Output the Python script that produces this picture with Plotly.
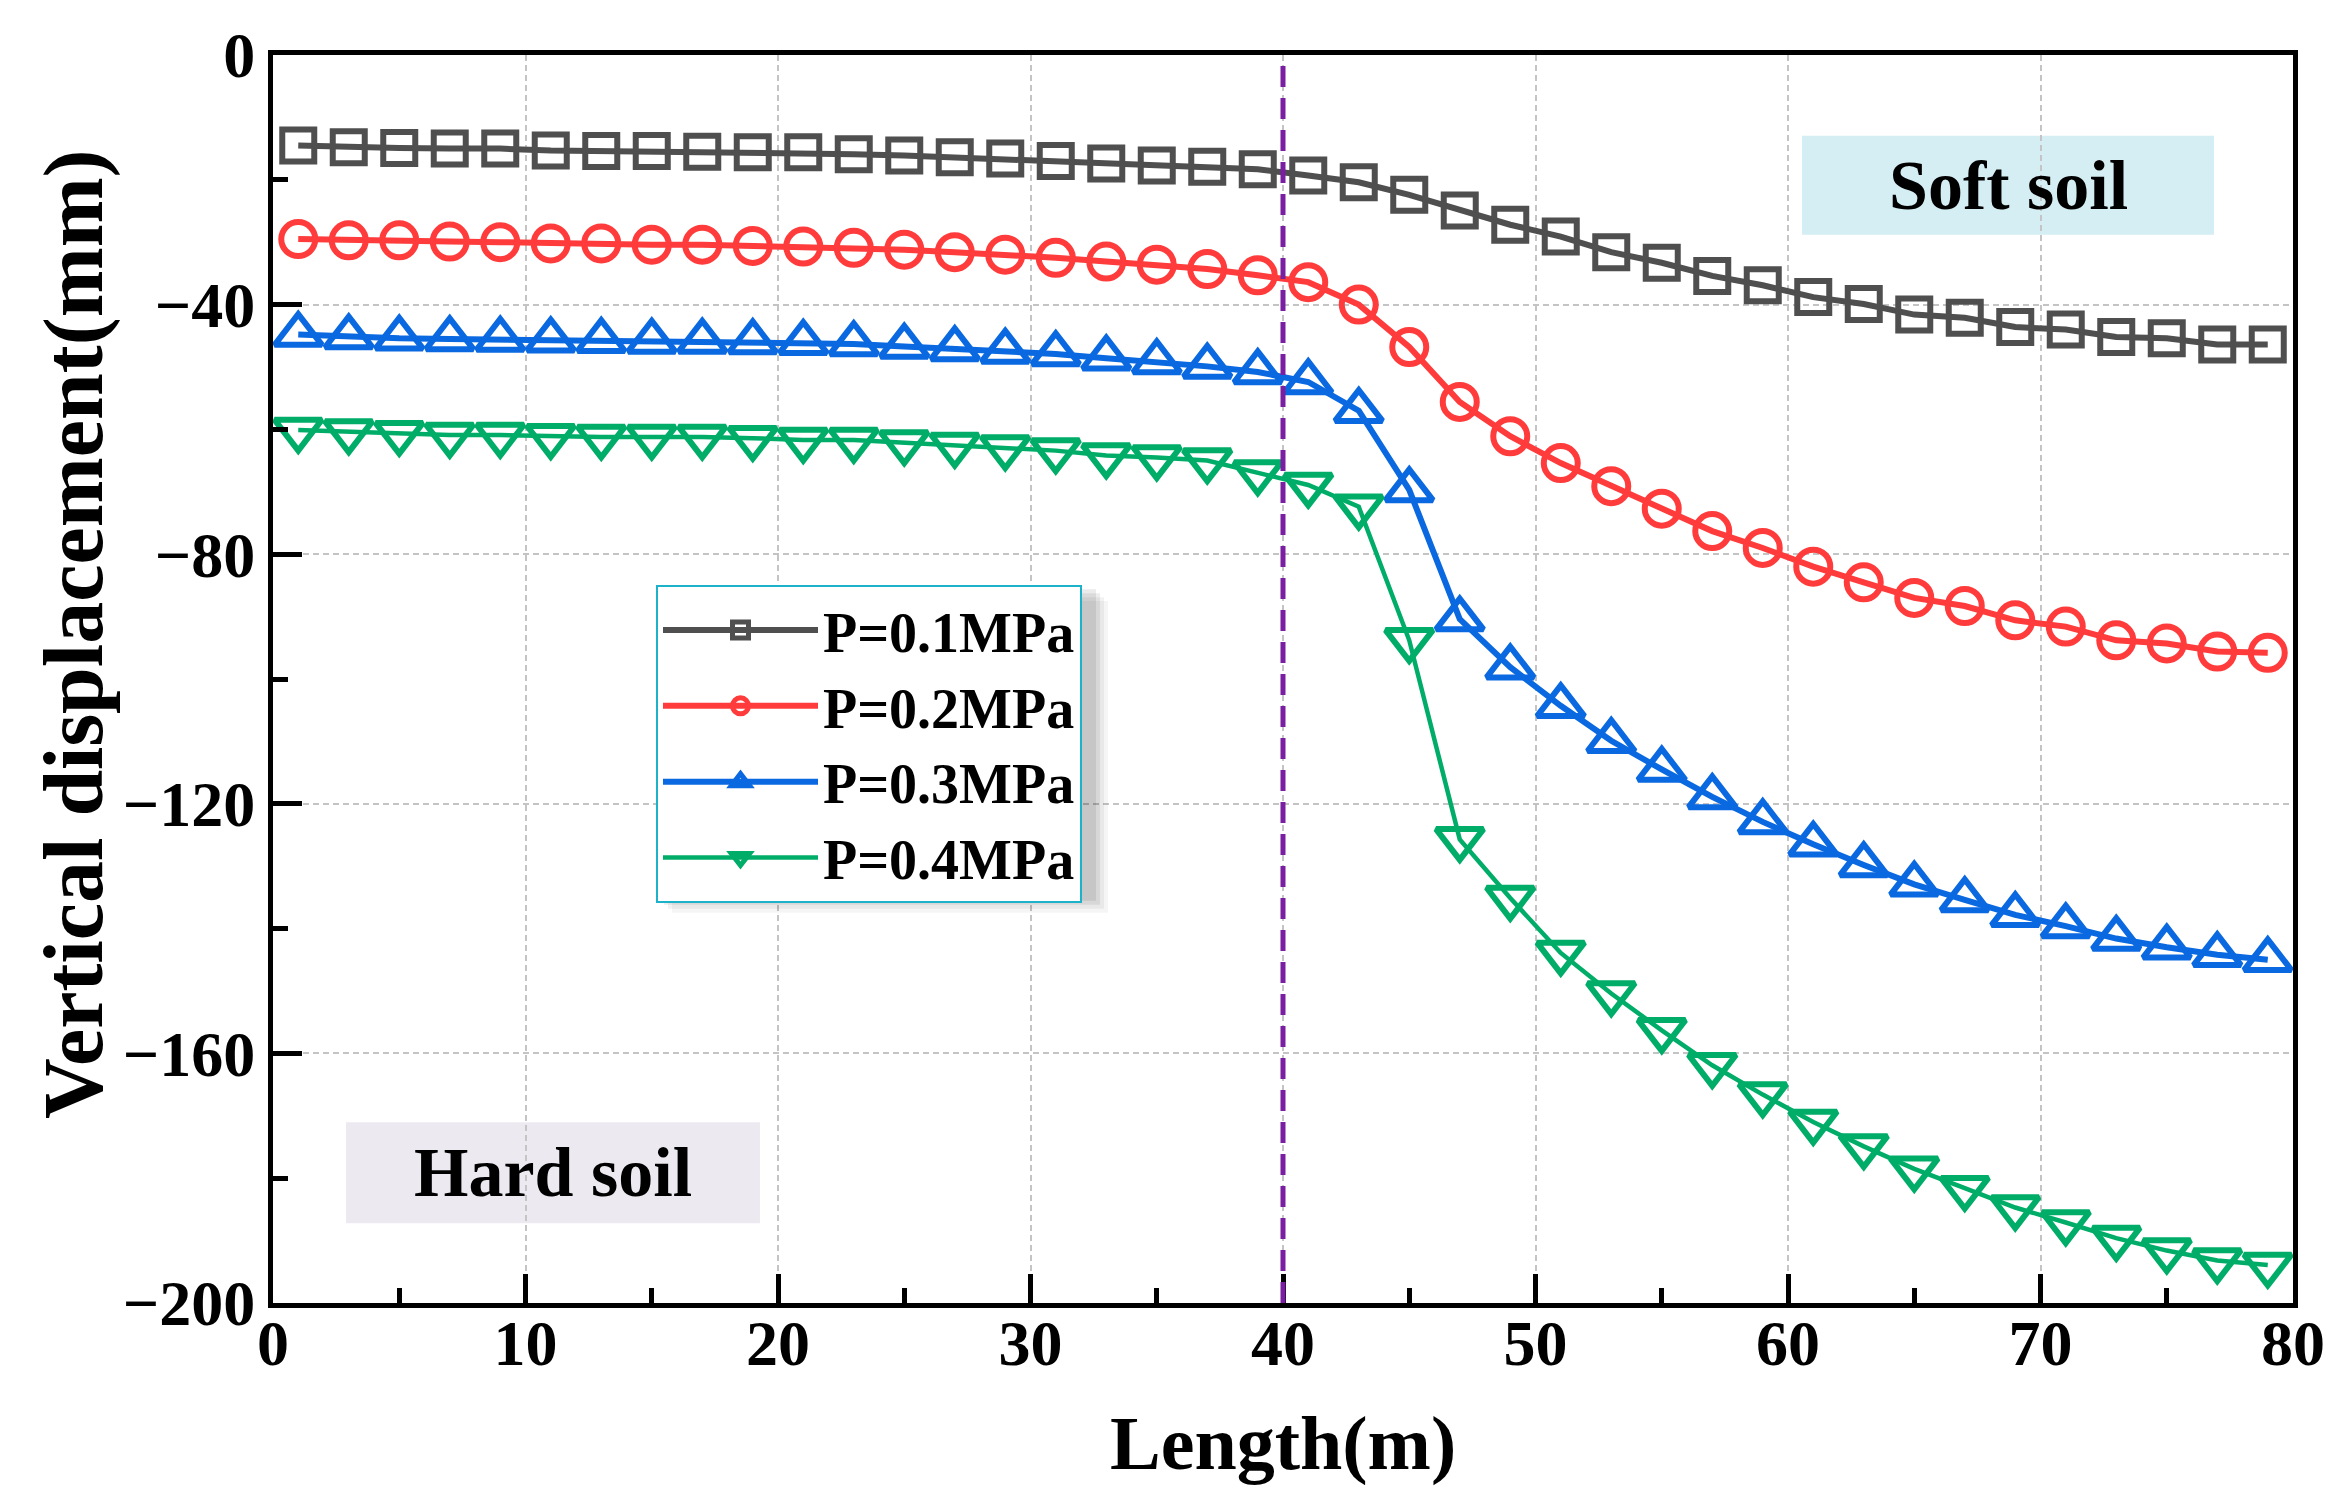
import plotly.graph_objects as go

# ---------------- data ----------------
length_m = [1, 3, 5, 7, 9, 11, 13, 15, 17, 19, 21, 23, 25, 27, 29, 31, 33, 35, 37, 39,
            41, 43, 45, 47, 49, 51, 53, 55, 57, 59, 61, 63, 65, 67, 69, 71, 73, 75, 77, 79]

p01 = [-14.5, -14.8, -14.9, -15.0, -15.0, -15.3, -15.4, -15.4, -15.5, -15.6,
       -15.6, -15.9, -16.1, -16.4, -16.6, -17.0, -17.4, -17.7, -17.9, -18.3,
       -19.3, -20.4, -22.4, -24.9, -27.2, -29.1, -31.6, -33.3, -35.4, -36.9,
       -38.8, -39.9, -41.6, -42.1, -43.6, -44.0, -45.2, -45.4, -46.4, -46.4]

p02 = [-29.5, -29.7, -29.7, -29.9, -30.0, -30.2, -30.2, -30.4, -30.4, -30.6,
       -30.7, -30.9, -31.2, -31.6, -32.0, -32.5, -33.1, -33.6, -34.3, -35.3,
       -36.4, -40.0, -46.8, -55.6, -61.1, -65.4, -69.1, -72.7, -76.3, -79.0,
       -82.0, -84.5, -87.0, -88.3, -90.6, -91.6, -93.8, -94.3, -95.6, -95.8]

p03 = [-44.8, -45.2, -45.4, -45.5, -45.6, -45.7, -45.8, -45.9, -45.9, -46.0,
       -46.1, -46.3, -46.7, -47.1, -47.5, -47.9, -48.6, -49.2, -49.9, -50.8,
       -52.4, -57.0, -69.7, -90.4, -98.1, -104.3, -109.9, -114.5, -118.9, -122.9,
       -126.5, -129.8, -132.9, -135.4, -137.8, -139.6, -141.6, -143.0, -144.2, -145.0]

p04 = [-60.1, -60.35, -60.6, -60.9, -60.9, -61.1, -61.2, -61.2, -61.2, -61.4,
       -61.7, -61.7, -62.1, -62.5, -62.9, -63.4, -64.2, -64.5, -65.0, -66.9,
       -68.9, -72.4, -93.8, -125.7, -135.1, -143.9, -150.4, -156.3, -161.9, -166.6,
       -171.0, -174.9, -178.5, -181.6, -184.7, -187.1, -189.6, -191.6, -193.2, -193.9]

series_names = ["P=0.1MPa", "P=0.2MPa", "P=0.3MPa", "P=0.4MPa"]
boundary_x = 40
region_labels = ["Soft soil", "Hard soil"]
x_title = "Length(m)"
y_title = "Vertical displacement(mm)"

# ---------------- styles ----------------
FONT = "Liberation Serif"
colors = ["#4f4f4f", "#ff3b3b", "#0a69e0", "#00ad68"]
symbols = ["square-open", "circle-open", "triangle-up-open", "triangle-down-open"]
msizes = [32, 34, 41, 41]
lwidths = [6, 6, 6, 4.5]
mlw = 6

W, H = 2340, 1500
ML, MR, MT, MB = 265, 55, 45, 205
PW, PH = W - ML - MR, H - MT - MB


def px_to_paper_x(px):
    return (px - ML) / PW


def px_to_paper_y(py):
    return (H - MB - py) / PH


fig = go.Figure()
for name, ys, c, s, ms, lw in zip(series_names, [p01, p02, p03, p04], colors, symbols, msizes, lwidths):
    fig.add_trace(go.Scatter(
        x=length_m, y=ys, name=name, mode="lines+markers",
        line=dict(color=c, width=lw),
        marker=dict(symbol=s, size=ms, color=c, line=dict(color=c, width=mlw)),
    ))

# boundary line between hard and soft soil
fig.add_vline(x=boundary_x, line=dict(color="#7a1fa2", width=5, dash="21px,11px"), layer="above")

# region label boxes (pixel boxes)
soft_box = (1794, 2206, 126, 225)
hard_box = (338, 752, 1114, 1215)
for (x0, x1, y0, y1), fill in [(soft_box, "#d5eef4"), (hard_box, "#ede9f1")]:
    fig.add_shape(type="rect", xref="paper", yref="paper",
                  x0=px_to_paper_x(x0), x1=px_to_paper_x(x1),
                  y0=px_to_paper_y(y1), y1=px_to_paper_y(y0),
                  fillcolor=fill, line=dict(width=0), layer="below")

for (x0, x1, y0, y1), label in [(soft_box, region_labels[0]), (hard_box, region_labels[1])]:
    fig.add_annotation(xref="paper", yref="paper",
                       x=px_to_paper_x((x0 + x1) / 2), y=px_to_paper_y((y0 + y1) / 2),
                       xanchor="center", yanchor="middle", text=label, showarrow=False,
                       font=dict(family=FONT, size=70, color="black", weight="bold"))

# legend shadow (legend box approx)
leg_box = (648, 1084, 576, 888)
for off, op in [(16, 0.04), (12, 0.05), (8, 0.07), (4, 0.08)]:
    fig.add_shape(type="rect", xref="paper", yref="paper",
                  x0=px_to_paper_x(leg_box[0] + off), x1=px_to_paper_x(leg_box[1] + off),
                  y0=px_to_paper_y(leg_box[3] + off), y1=px_to_paper_y(leg_box[2] + off),
                  fillcolor=f"rgba(0,0,0,{op})", line=dict(width=0), layer="above")

# axis titles as annotations for exact placement
fig.add_annotation(xref="paper", yref="paper", x=0.5, y=0, yshift=-140, xanchor="center",
                   yanchor="middle", text=x_title, showarrow=False,
                   font=dict(family=FONT, size=76, color="black", weight="bold"))
fig.add_annotation(xref="paper", yref="paper", x=0, xshift=66 - ML, y=px_to_paper_y(625),
                   xanchor="center", yanchor="middle", textangle=-90, text=y_title, showarrow=False,
                   font=dict(family=FONT, size=84, color="black", weight="bold"))

axis_common = dict(
    showline=True, linecolor="black", linewidth=5, mirror=True,
    ticks="inside", ticklen=29, tickwidth=5, tickcolor="black",
    showgrid=True, gridcolor="#c4c4c4", gridwidth=2, griddash="6px,4px",
    zeroline=False,
    tickfont=dict(family=FONT, size=64, color="black", weight="bold"),
)

fig.update_xaxes(
    range=[0, 80], dtick=10, tick0=0,
    minor=dict(dtick=5, ticks="inside", ticklen=15, tickwidth=5, tickcolor="black", showgrid=False),
    ticklabelstandoff=-20,
    **axis_common,
)
fig.update_yaxes(
    range=[-200, 0], dtick=40, tick0=0,
    minor=dict(dtick=20, ticks="inside", ticklen=15, tickwidth=5, tickcolor="black", showgrid=False),
    ticklabelstandoff=0,
    **axis_common,
)

fig.update_layout(
    width=W, height=H, autosize=False,
    margin=dict(l=ML, r=MR, t=MT, b=MB),
    paper_bgcolor="white", plot_bgcolor="white",
    showlegend=True,
    legend=dict(
        x=px_to_paper_x(leg_box[0]), y=px_to_paper_y(leg_box[2]), xanchor="left", yanchor="top",
        bgcolor="white", bordercolor="#1cb2c9", borderwidth=2,
        font=dict(family=FONT, size=56, color="black", weight="bold"),
        itemwidth=155, itemsizing="trace", tracegroupgap=0,
    ),
)

fig.write_html("out.html")
